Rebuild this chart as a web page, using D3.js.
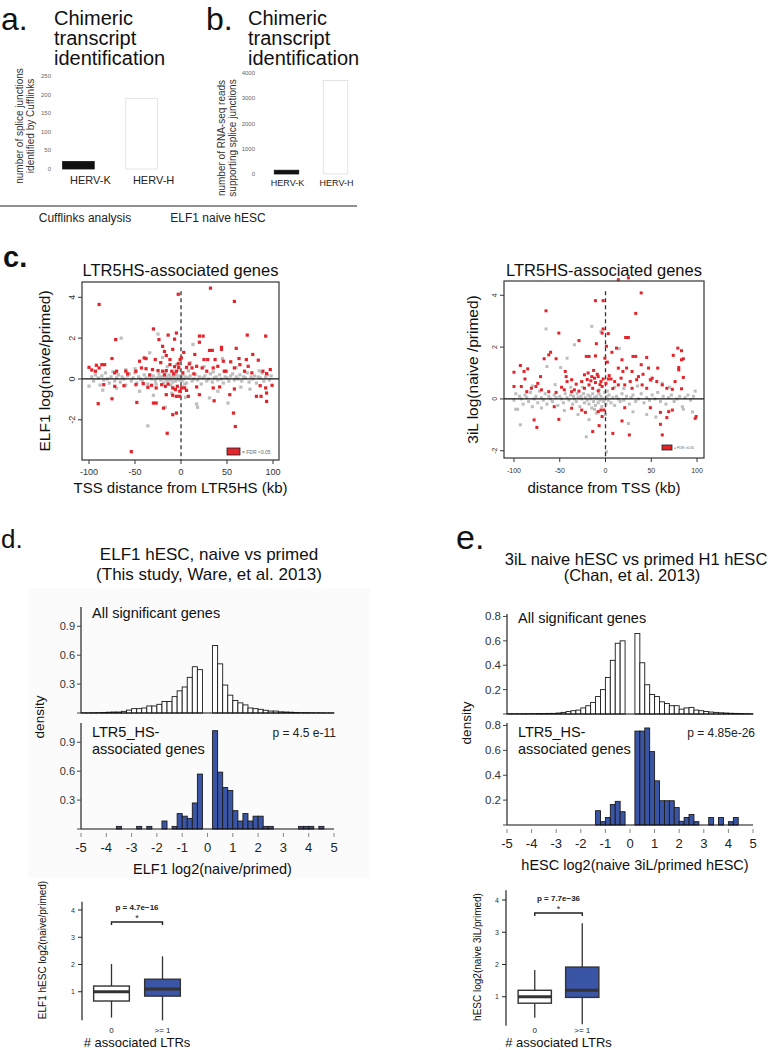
<!DOCTYPE html>
<html><head><meta charset="utf-8">
<script src="https://cdn.jsdelivr.net/npm/d3@7"></script>
<style>
body{margin:0;background:#fff}
svg{display:block}
text{font-family:"Liberation Sans",Arial,Helvetica,sans-serif}
</style>
</head><body>
<svg id="fig" width="775" height="1050"></svg>
<script>
// ---------------- DATA ----------------
const barCategories = ["HERV-K", "HERV-H"];
const aValues = [20, 190];
const aTicks = [0, 50, 100, 150, 200, 250];
const bValues = [150, 3700];
const bTicks = [0, 1000, 2000, 3000, 4000];

const scatterXTicks = [-100, -50, 0, 50, 100];
const cLeftYTicks = [-2, 0, 2, 4];
const cRightYTicks = [-2, 0, 2, 4];

// left scatter: [TSS distance kb, ELF1 log(naive/primed)]
const cLeftRed = [
 [-89,3.65],[-3,4.15],[32,4.45],[58,3.8],[-30,2.45],[-71,1.93],[72,2.15],[92,2.1],[-14,2.15],[-5,2.25],
 [-7,1.95],[-24,1.93],[20,2.1],[24,2.1],[20,1.8],[-20,1.6],[-18,1.35],[-9,1.45],[60,1.5],[31,1.4],
 [34,1.4],[44,1.45],[44,1.55],[78,1.2],[3,1.3],[15,1.2],[-75,1.0],[-86,0.7],[-83,0.7],[-40,1.03],
 [-38,1.0],[-45,0.87],[-28,0.95],[-16,1.15],[-12,0.95],[-1,0.95],[0.4,1.03],[25,0.95],[29,0.95],[37,0.95],
 [46,0.87],[54,0.84],[63,1.0],[71,0.95],[84,0.92],[-100,0.57],[-97,0.44],[-92,0.67],[-89,0.54],[-93,0.38],
 [-70,0.38],[-72,0.3],[-60,0.38],[-49,0.38],[-43,0.54],[-38,0.5],[-31,0.46],[-25,0.41],[-20,0.38],[-16,0.41],
 [-10,0.38],[-5,0.38],[-2.5,0.57],[6,0.57],[9,0.74],[12,0.54],[17,0.62],[23,0.54],[28,0.38],[35,0.54],
 [40,0.62],[47,0.38],[49,0.38],[58,0.54],[64,0.7],[69,0.38],[73,0.62],[89,0.38],[93,0.26],[97,0.46],
 [-84,-0.28],[-72,-0.36],[-62,-0.33],[-49,-0.28],[-41,-0.23],[-36,-0.41],[-32,-0.31],[-27,-0.44],[-21,-0.28],[-17,-0.36],
 [-14,-0.25],[-9,-0.44],[-6,-0.52],[-4,-0.36],[-1.4,-0.6],[0.4,-0.44],[4,-0.44],[6,-0.56],[17,-0.39],[35,-0.44],
 [42,-0.39],[58,-0.49],[86,-0.33],[92,-0.44],[99,-0.31],[-75,-0.97],[-90,-1.21],[-48,-1.15],[-30,-1.18],[-27,-1.18],
 [-16,-0.77],[-9,-0.8],[-1.4,-0.85],[-5,-0.85],[8,-0.85],[20,-0.77],[36,-1.07],[53,-0.77],[82,-0.85],[87,-0.85],
 [93,-1.1],[93,-0.69],[-19,-1.43],[-9,-1.75],[-5,-1.67],[57,-1.67],[59,-2.33],[-15,-2.66],[-54,-3.56],[-22,0.8],
 [-12,0.7],[-7,0.6],[-3,0.75],[-18,0.2],[-8,0.25],[2,0.3],[14,0.25],[-34,0.2],[-58,0.25],[77,0.3]
];
const cLeftGrey = [
 [-100,-0.35],[-97,0.1],[-95,-0.1],[-93,0.2],[-90,0.05],[-88,-0.3],[-86,0.15],[-84,-0.05],[-82,0.3],[-80,0.0],
 [-78,-0.2],[-76,0.1],[-74,0.35],[-72,-0.1],[-70,0.05],[-68,0.2],[-66,-0.15],[-64,0.1],[-62,0.0],[-60,-0.3],
 [-58,0.15],[-56,0.25],[-54,-0.1],[-52,0.05],[-50,0.3],[-48,-0.2],[-46,0.1],[-44,0.0],[-42,-0.1],[-40,0.2],
 [-38,0.05],[-36,-0.25],[-34,0.1],[-32,0.0],[-30,0.15],[-28,-0.1],[-26,0.05],[-24,0.25],[-22,-0.05],[-20,0.1],
 [-19,-0.2],[-18,0.0],[-17,0.3],[-16,0.1],[-15,-0.1],[-14,0.05],[-13,0.2],[-12,-0.05],[-11,0.1],[-10,0.0],
 [-9,-0.15],[-8,0.15],[-7,0.05],[-6,-0.1],[-5,0.2],[-4,0.0],[-3,0.1],[-2,-0.05],[-1,0.15],[0.5,0.05],
 [1,-0.1],[2,0.2],[3,0.0],[5,0.1],[6,-0.2],[8,0.05],[10,0.15],[12,-0.1],[14,0.0],[16,0.2],
 [18,-0.05],[20,0.1],[22,-0.25],[24,0.05],[26,0.15],[28,-0.1],[30,0.0],[32,0.25],[34,-0.15],[36,0.05],
 [38,0.1],[40,-0.05],[42,0.2],[44,0.0],[46,-0.2],[48,0.1],[50,0.05],[52,-0.1],[54,0.15],[56,0.25],
 [58,-0.05],[60,0.1],[62,0.0],[64,0.2],[66,-0.1],[68,0.1],[70,0.05],[72,0.3],[74,-0.15],[76,0.1],
 [78,0.0],[80,0.15],[82,-0.2],[84,0.1],[86,0.05],[88,0.3],[90,-0.1],[92,0.1],[94,0.2],[96,-0.05],
 [98,0.15],[-65,2.0],[-25,2.2],[-36,-2.3],[-17,-1.39],[18,-1.39],[17,-1.23],[51,-1.18],[31,-0.93],[-34,1.28],
 [13,1.69],[-20,1.05],[-45,-0.6],[60,0.55],[-10,-0.7],[25,0.6],[-60,0.45],[40,-0.6],[-5,0.7],[75,-0.5],
 [-85,-0.55],[10,0.8],[-30,-0.8],[85,0.4],[-50,0.5],[45,1.0],[-15,0.6],[5,-0.9],[65,-0.4],[-70,-0.45],
 [35,0.35],[-3,0.45],[2,-0.4],[-8,-0.45],[8,0.4],[-23,0.1],[-11,-0.3],[-6,0.3],[4,-0.25],[-27,-0.25]
];

// right scatter: [distance from TSS kb, 3iL log(naive/primed)]
const cRightRed = [
 [14,4.6],[25,4.67],[39,4.09],[-11,3.79],[-2.6,3.79],[33,3.3],[-65,3.4],[-51,2.54],[-2.6,2.7],[-3.7,2.54],
 [3,2.52],[22,2.37],[25,2.37],[-29,2.25],[-10,2.13],[1,2.03],[7,1.8],[12,1.96],[18,1.51],[-21,1.64],
 [-18,1.64],[-11,1.66],[-0.7,1.57],[2,1.42],[-60,1.8],[-62,1.7],[-67,1.55],[-54,1.55],[-93,1.29],[-89,1.06],
 [-100,1.03],[-85,1.16],[-88,0.77],[79,1.96],[83,1.86],[74,1.68],[83,1.51],[85,1.55],[80,1.21],[80,1.12],
 [85,0.83],[83,0.39],[76,0.67],[30,1.64],[33,1.64],[45,1.6],[39,1.32],[47,1.19],[57,1.19],[29,1.06],
 [23,1.19],[14,1.19],[19,1.06],[-23,0.93],[-19,1.0],[-15,0.86],[-12,0.8],[-8,0.86],[-5,0.67],[-2.6,0.77],
 [3,0.77],[6,0.77],[-11,0.63],[-18,0.54],[-23,0.41],[-14,0.41],[-8,0.31],[-3.7,0.48],[-26,0.67],[-32,0.57],
 [-37,0.74],[-42,0.67],[-44,1.06],[-43,0.86],[-37,0.28],[-34,0.35],[10,0.67],[14,0.54],[21,0.54],[27,0.67],
 [29,0.41],[34,0.74],[40,0.54],[45,0.41],[51,0.8],[56,0.67],[62,0.54],[67,0.41],[73,0.37],[49,0.74],
 [36,0.86],[-100,0.48],[-92,0.48],[-86,0.28],[-81,0.41],[-76,0.48],[-70,0.35],[-62,0.28],[-54,0.25],[-45,0.35],
 [-74,0.6],[-71,0.86],[-56,-0.3],[-37,-0.36],[-26,-0.43],[-22,-0.52],[-8,-0.49],[-5,-0.43],[-1.8,-0.43],[-3.7,-0.68],
 [21,-0.34],[49,-0.34],[60,-0.52],[69,-0.49],[73,-0.43],[99,-0.68],[98,-0.75],[-51,-0.79],[-78,-0.81],[-75,-1.1],
 [18,-0.85],[-7,-1.03],[60,-0.98],[67,-0.72],[-14,-1.26],[8,-1.33],[26,-1.39],[62,-1.39],[-16,0.7],[-9,0.95],
 [-6,0.55],[0.5,0.6],[4,0.9],[-20,0.75],[-13,1.1],[8,0.4],[-29,0.3],[17,0.8],[41,0.95],[-48,0.45]
];
const cRightGrey = [
 [-100,-0.05],[-98,0.2],[-96,-0.4],[-94,0.1],[-92,0.0],[-90,-0.2],[-88,0.15],[-86,0.05],[-84,-0.1],[-82,0.25],
 [-80,-0.3],[-78,0.0],[-76,0.1],[-74,-0.15],[-72,0.3],[-70,0.05],[-68,-0.05],[-66,0.2],[-64,-0.2],[-62,0.1],
 [-60,0.0],[-58,-0.1],[-56,0.15],[-54,0.05],[-52,-0.25],[-50,0.1],[-48,0.0],[-46,-0.15],[-44,0.2],[-42,0.05],
 [-40,-0.05],[-38,0.15],[-36,-0.2],[-35,0.1],[-34,0.0],[-32,-0.1],[-31,0.2],[-30,0.05],[-28,-0.3],[-27,0.1],
 [-26,0.0],[-24,0.2],[-23,-0.15],[-22,0.05],[-20,-0.05],[-19,0.15],[-18,-0.2],[-17,0.1],[-16,0.0],[-15,-0.35],
 [-14,0.2],[-13,-0.1],[-12,0.05],[-11,-0.25],[-10,0.1],[-9,0.0],[-8,-0.15],[-7,0.2],[-6,-0.05],[-5,0.1],
 [-4,-0.3],[-3,0.0],[-2,-0.1],[-1,0.25],[0.5,-0.2],[1.5,0.1],[3,-0.05],[4,0.15],[6,-0.15],[8,0.05],
 [10,-0.25],[12,0.1],[14,0.0],[16,-0.1],[18,0.2],[20,-0.05],[23,0.1],[26,-0.2],[28,0.05],[30,0.15],
 [33,-0.1],[36,0.0],[39,0.2],[42,-0.15],[45,0.05],[48,-0.05],[51,0.15],[54,0.0],[57,0.25],[60,-0.1],
 [63,0.1],[66,-0.2],[69,0.05],[72,0.15],[75,-0.1],[78,0.0],[81,0.1],[84,-0.3],[87,0.05],[90,0.15],
 [93,-0.05],[96,0.1],[98,0.3],[-93,-1.0],[-21,-1.46],[1,-2.04],[-65,2.7],[-15,2.8],[-34,2.09],[-42,1.57],
 [-49,1.21],[-64,1.25],[15,1.94],[-5,2.6],[20,0.4],[-55,0.55],[45,-0.6],[-30,-0.6],[70,0.45],[-80,0.5],
 [30,-0.5],[-10,-0.55],[10,0.45],[55,-0.7],[-45,-0.45],[85,-0.4],[-25,0.45],[35,0.5],[-70,-0.35],[0,-0.6],
 [-38,0.45],[62,0.6],[-98,-0.4],[95,-0.5],[-18,-0.8],[25,-0.95],[50,0.7],[-12,-0.4],[-7,0.35],[2,0.3]
];

// histograms: bin left edges (width 0.2)
const histBins = [-5,-4.8,-4.6,-4.4,-4.2,-4,-3.8,-3.6,-3.4,-3.2,-3,-2.8,-2.6,-2.4,-2.2,-2,-1.8,-1.6,-1.4,-1.2,
 -1,-0.8,-0.6,-0.4,-0.2,0,0.2,0.4,0.6,0.8,1,1.2,1.4,1.6,1.8,2,2.2,2.4,2.6,2.8,
 3,3.2,3.4,3.6,3.8,4,4.2,4.4,4.6,4.8];
const histXTicks = [-5,-4,-3,-2,-1,0,1,2,3,4,5];
const dAllDensity = [0.002,0.002,0.003,0.004,0.006,0.008,0.01,0.01,0.017,0.03,
 0.045,0.045,0.052,0.073,0.073,0.09,0.12,0.12,0.17,0.23,
 0.27,0.37,0.48,0.45,0,0,0.70,0.51,0.29,0.185,
 0.13,0.105,0.084,0.052,0.045,0.038,0.028,0.02,0.02,0.012,
 0.01,0.008,0.006,0.004,0.004,0.003,0.002,0.002,0.001,0.001];
const dLtrDensity = [0,0,0,0,0,0,0,0.027,0,0,
 0,0.027,0,0.027,0,0,0.083,0,0.027,0.16,
 0.133,0.11,0.27,0.57,0,0,1.02,0.59,0.43,0.40,
 0.19,0.083,0.16,0.083,0.133,0.133,0.027,0.027,0,0,
 0,0,0,0.027,0.027,0.027,0,0.027,0,0];
const dYTicks = [0.3, 0.6, 0.9];
const eAllDensity = [0.002,0.002,0.002,0.003,0.003,0.003,0.004,0.004,0.005,0.005,
 0.008,0.013,0.02,0.027,0.032,0.05,0.068,0.095,0.143,0.2,
 0.3,0.44,0.58,0.6,0,0,0.66,0.42,0.24,0.16,
 0.143,0.1,0.086,0.068,0.068,0.04,0.05,0.054,0.032,0.027,
 0.02,0.016,0.013,0.01,0.008,0.006,0.005,0.004,0.003,0.002];
const eLtrDensity = [0,0,0,0,0,0,0,0,0,0,
 0,0,0,0,0,0,0,0,0.115,0.027,
 0.06,0.165,0.19,0.107,0,0,0.755,0.755,0.78,0.59,
 0.355,0.195,0.195,0.195,0.14,0.03,0.06,0.085,0.027,0,
 0,0.06,0,0.06,0,0.027,0.06,0,0,0];
const eYTicks = [0.2, 0.4, 0.6, 0.8];

// boxplots: [lower whisker, Q1, median, Q3, upper whisker]
const boxGroups = ["0", ">= 1"];
const dBoxStats = [[0.05, 0.66, 1.0, 1.21, 2.02], [-0.05, 0.84, 1.1, 1.46, 2.3]];
const eBoxStats = [[0.35, 0.8, 1.0, 1.2, 1.83], [0.15, 0.98, 1.2, 1.92, 3.28]];
const boxYTicks = [1, 2, 3, 4];

// ---------------- DRAWING ----------------
const RED = "#e3242b", GREY = "#bdbdbd", BLUE = "#3a55a6";
const svg = d3.select("#fig");
svg.append("rect").attr("width", 775).attr("height", 1050).attr("fill", "#fff");

function T(g, x, y, s, size, o = {}) {
  const t = g.append("text").attr("x", x).attr("y", y).text(s)
    .attr("font-size", size).attr("fill", o.fill || "#111")
    .attr("text-anchor", o.anchor || "start");
  if (o.family) t.attr("font-family", o.family);
  if (o.weight) t.attr("font-weight", o.weight);
  if (o.rotate) t.attr("transform", `rotate(${o.rotate},${x},${y})`);
  return t;
}

// ===== panels a & b =====
function barPanel(o) {
  const g = svg.append("g");
  T(g, o.letterX, 30, o.letter, 32);
  ["Chimeric", "transcript", "identification"].forEach((s, i) =>
    T(g, o.titleX, 25 + i * 20, s, 20, {family: "'DejaVu Sans',sans-serif"}));
  const y = d3.scaleLinear().domain([0, o.ticks[o.ticks.length - 1]]).range([o.y0, o.y1]);
  const x = d3.scaleBand().domain(barCategories).range(o.xr).paddingInner(0.5).paddingOuter(o.po);
  o.ticks.forEach(t => T(g, o.tickX, y(t) + 2, t, 6, {anchor: "end", fill: "#666"}));
  g.selectAll(null).data(o.values).join("rect")
    .attr("x", (d, i) => x(barCategories[i])).attr("width", x.bandwidth())
    .attr("y", d => y(d)).attr("height", d => o.y0 - y(d))
    .attr("fill", (d, i) => i === 0 ? "#111" : "#fff")
    .attr("stroke", (d, i) => i === 0 ? "#111" : "#ddd").attr("stroke-width", 0.8);
  barCategories.forEach((c, i) =>
    T(g, x(c) + x.bandwidth() / 2 + o.labOff, o.labY, c, o.labSize, {anchor: "middle", fill: "#222"}));
  o.ylab.forEach((s, i) =>
    T(g, o.ylabX + i * 11, o.ylabY, s, 10, {anchor: "middle", rotate: -90, fill: "#333"}));
}
barPanel({letter: "a.", letterX: 1, titleX: 54, ticks: aTicks, values: aValues, y0: 169, y1: 76,
  xr: [50, 170], po: 0.2, tickX: 51, labOff: 12, labY: 184, labSize: 11,
  ylab: ["number of splice junctions", "identified by Cufflinks"], ylabX: 23, ylabY: 126});
barPanel({letter: "b.", letterX: 206, titleX: 248, ticks: bTicks, values: bValues, y0: 174, y1: 73,
  xr: [262, 360], po: 0.25, tickX: 255, labOff: 1, labY: 186, labSize: 9,
  ylab: ["number of RNA-seq reads", "supporting splice junctions"], ylabX: 225, ylabY: 138});
svg.append("line").attr("x1", 0).attr("x2", 357).attr("y1", 206).attr("y2", 206)
  .attr("stroke", "#222").attr("stroke-width", 1.2);
T(svg, 85, 222, "Cufflinks analysis", 12, {anchor: "middle", fill: "#222"});
T(svg, 218, 222, "ELF1 naive hESC", 12, {anchor: "middle", fill: "#222"});

// ===== panel c scatter plots =====
T(svg, 3, 267, "c.", 29, {weight: "bold"});
function scatter(o) {
  const g = svg.append("g");
  const x = d3.scaleLinear().domain(o.xd).range([o.left, o.right]);
  const y = d3.scaleLinear().domain(o.yd).range([o.bottom, o.top]);
  const s = o.ps;
  g.selectAll(null).data(o.grey).join("rect")
    .attr("x", d => x(d[0]) - s / 2).attr("y", d => y(d[1]) - s / 2)
    .attr("width", s).attr("height", s).attr("fill", GREY);
  g.append("line").attr("x1", o.left).attr("x2", o.right).attr("y1", y(0)).attr("y2", y(0))
    .attr("stroke", "#111").attr("stroke-width", 1.2);
  g.append("line").attr("x1", x(0)).attr("x2", x(0)).attr("y1", y(o.dashTop)).attr("y2", o.bottom)
    .attr("stroke", "#333").attr("stroke-width", 1.3).attr("stroke-dasharray", "4,3");
  g.selectAll(null).data(o.red).join("rect")
    .attr("x", d => x(d[0]) - s / 2).attr("y", d => y(d[1]) - s / 2)
    .attr("width", s).attr("height", s).attr("fill", RED);
  g.append("rect").attr("x", o.left).attr("y", o.top).attr("width", o.right - o.left)
    .attr("height", o.bottom - o.top).attr("fill", "none").attr("stroke", "#333").attr("stroke-width", 1.2);
  scatterXTicks.forEach(t => {
    g.append("line").attr("x1", x(t)).attr("x2", x(t)).attr("y1", o.bottom).attr("y2", o.bottom + 4)
      .attr("stroke", "#333");
    T(g, x(t), o.bottom + 15, t, o.tickSize, {anchor: "middle", fill: "#333"});
  });
  o.yTicks.forEach(t => {
    g.append("line").attr("x1", o.left - 4).attr("x2", o.left).attr("y1", y(t)).attr("y2", y(t))
      .attr("stroke", "#333");
    T(g, o.left - 7, y(t), t, o.tickSize, {anchor: "middle", fill: "#333", rotate: -90});
  });
  T(g, (o.left + o.right) / 2, 276, "LTR5HS-associated genes", 16.5, {anchor: "middle"});
  T(g, (o.left + o.right) / 2, 493, o.xlab, 15, {anchor: "middle"});
  T(g, o.ylabX, (o.top + o.bottom) / 2, o.ylab, 15.5, {anchor: "middle", rotate: -90});
  g.append("rect").attr("x", o.legX).attr("y", o.legY).attr("width", o.legW).attr("height", o.legH)
    .attr("fill", RED).attr("stroke", "#222").attr("stroke-width", 0.8);
  T(g, o.legX + o.legW + 2, o.legY + o.legH - 1, "= FDR <0.05", o.legFont, {fill: "#666"});
}
scatter({xd: [-107.6, 106.5], yd: [-3.97, 4.75], left: 82, right: 279, top: 282, bottom: 460,
  red: cLeftRed, grey: cLeftGrey, yTicks: cLeftYTicks, ps: 3.2, dashTop: 4.3, tickSize: 9,
  xlab: "TSS distance from LTR5HS (kb)", ylab: "ELF1 log(naive/primed)", ylabX: 50,
  legX: 227, legY: 448, legW: 13, legH: 7, legFont: 5});
scatter({xd: [-110.9, 107.6], yd: [-2.28, 4.55], left: 504, right: 704, top: 281, bottom: 458,
  red: cRightRed, grey: cRightGrey, yTicks: cRightYTicks, ps: 3, dashTop: 4.15, tickSize: 7,
  xlab: "distance from TSS (kb)", ylab: "3iL log(naive /primed)", ylabX: 478,
  legX: 662, legY: 445, legW: 10, legH: 5, legFont: 3.5});

// ===== panels d & e histograms =====
svg.append("rect").attr("x", 28).attr("y", 588).attr("width", 342).attr("height", 290).attr("fill", "#fbfbfb");
T(svg, 1, 548, "d.", 26);
T(svg, 456, 549, "e.", 34);
T(svg, 209, 560, "ELF1 hESC, naive vs primed", 17, {anchor: "middle"});
T(svg, 209, 580, "(This study, Ware, et al. 2013)", 17, {anchor: "middle"});
T(svg, 636, 565, "3iL naive hESC vs primed H1 hESC", 16.5, {anchor: "middle"});
T(svg, 632, 581, "(Chan, et al. 2013)", 16.5, {anchor: "middle"});

function hist(o) {
  const g = svg.append("g");
  const x = d3.scaleLinear().domain([-5, 5]).range([o.x0, o.x1]);
  const y = d3.scaleLinear().domain([0, o.ymax]).range([o.base, o.topPx]);
  const data = histBins.map((b, i) => ({b, v: o.values[i]})).filter(d => d.v > 0);
  g.selectAll(null).data(data).join("rect")
    .attr("x", d => x(d.b)).attr("width", x(0.2) - x(0))
    .attr("y", d => y(d.v)).attr("height", d => o.base - y(d.v))
    .attr("fill", o.fill).attr("stroke", "#1a1a1a").attr("stroke-width", 0.9);
  g.append("line").attr("x1", o.x0).attr("x2", o.x1).attr("y1", o.base).attr("y2", o.base)
    .attr("stroke", "#111").attr("stroke-width", 1.1);
  g.append("line").attr("x1", o.x0).attr("x2", o.x0).attr("y1", o.base).attr("y2", o.topPx)
    .attr("stroke", "#111").attr("stroke-width", 1.1);
  [0].concat(o.yTicks).forEach(t => {
    g.append("line").attr("x1", o.x0 - 4).attr("x2", o.x0).attr("y1", y(t)).attr("y2", y(t)).attr("stroke", "#444");
    if (t > 0) T(g, o.x0 - 6, y(t) + 4, t, o.tickFont, {anchor: "end", fill: "#333"});
  });
  o.labels.forEach((s, i) => T(g, o.x0 + 11, o.labY + i * 16.5, s, 14.5, {fill: "#111"}));
  if (o.p) T(g, o.x1 + 2, o.labY, o.p, 12, {anchor: "end", fill: "#222"});
  if (o.xaxis) {
    histXTicks.forEach(t => {
      g.append("line").attr("x1", x(t)).attr("x2", x(t)).attr("y1", o.base + 4).attr("y2", o.base + 8)
        .attr("stroke", "#888");
      T(g, x(t), o.base + 23, t, 13, {anchor: "middle", fill: "#222"});
    });
    T(g, (o.x0 + o.x1) / 2 + 5, o.base + 45, o.xlab, 14.5, {anchor: "middle"});
  }
}
hist({x0: 81, x1: 334, base: 713, ymax: 1.1, topPx: 607, values: dAllDensity, fill: "#fff",
  yTicks: dYTicks, tickFont: 11, labels: ["All significant genes"], labY: 618});
hist({x0: 81, x1: 334, base: 829, ymax: 1.1, topPx: 723, values: dLtrDensity, fill: BLUE,
  yTicks: dYTicks, tickFont: 11, labels: ["LTR5_HS-", "associated genes"], labY: 737, p: "p = 4.5 e-11",
  xaxis: true, xlab: "ELF1 log2(naive/primed)"});
T(svg, 44, 717, "density", 13.5, {anchor: "middle", rotate: -90});

hist({x0: 507, x1: 753, base: 714, ymax: 0.82, topPx: 614, values: eAllDensity, fill: "#fff",
  yTicks: eYTicks, tickFont: 11.5, labels: ["All significant genes"], labY: 623});
hist({x0: 507, x1: 753, base: 825, ymax: 0.82, topPx: 723, values: eLtrDensity, fill: BLUE,
  yTicks: eYTicks, tickFont: 11.5, labels: ["LTR5_HS-", "associated genes"], labY: 737, p: "p = 4.85e-26",
  xaxis: true, xlab: "hESC log2(naive 3iL/primed hESC)"});
T(svg, 471, 723, "density", 13.5, {anchor: "middle", rotate: -90});

// ===== boxplots =====
function boxplot(o) {
  const g = svg.append("g");
  const y = d3.scaleLinear().domain([0, 4]).range([o.y0, o.y4]);
  const x = d3.scaleBand().domain(boxGroups).range(o.xr).paddingInner(0.3).paddingOuter(0.15);
  const bw = x.bandwidth();
  g.append("line").attr("x1", o.axisX).attr("x2", o.axisX).attr("y1", y(4.3)).attr("y2", y(o.axisBottom))
    .attr("stroke", "#222").attr("stroke-width", 1.2);
  boxYTicks.forEach(t => {
    g.append("line").attr("x1", o.axisX - 4).attr("x2", o.axisX).attr("y1", y(t)).attr("y2", y(t)).attr("stroke", "#222");
    T(g, o.axisX - 7, y(t) + 2.5, t, 7, {anchor: "end", fill: "#333"});
  });
  o.stats.forEach((s, i) => {
    const cx = x(boxGroups[i]) + bw / 2;
    g.append("line").attr("x1", cx).attr("x2", cx).attr("y1", y(s[0])).attr("y2", y(s[4]))
      .attr("stroke", "#333").attr("stroke-width", 1.3);
    g.append("rect").attr("x", x(boxGroups[i])).attr("width", bw).attr("y", y(s[3]))
      .attr("height", y(s[1]) - y(s[3])).attr("fill", i === 0 ? "#fff" : BLUE)
      .attr("stroke", "#333").attr("stroke-width", 1.4);
    g.append("line").attr("x1", x(boxGroups[i])).attr("x2", x(boxGroups[i]) + bw)
      .attr("y1", y(s[2])).attr("y2", y(s[2])).attr("stroke", "#333").attr("stroke-width", 3);
    T(g, cx, 1033, boxGroups[i], 8, {anchor: "middle", fill: "#222"});
  });
  const c0 = x(boxGroups[0]) + bw / 2, c1 = x(boxGroups[1]) + bw / 2;
  const by = o.bracketY;
  g.append("path").attr("d", `M${c0},${by + 3}V${by}H${c1}V${by + 3}`)
    .attr("fill", "none").attr("stroke", "#222").attr("stroke-width", 1.4);
  T(g, (c0 + c1) / 2, by - 1, "*", 9, {anchor: "middle", fill: "#222"});
  T(g, (c0 + c1) / 2, by - 12, o.p, 8, {anchor: "middle", fill: "#222", weight: "bold"});
  T(g, o.ylabX, o.ylabY, o.ylab, 10, {anchor: "middle", rotate: -90});
  T(g, (c0 + c1) / 2, 1047, "# associated LTRs", 13, {anchor: "middle"});
}
boxplot({stats: dBoxStats, y0: 1019, y4: 910, xr: [86, 188], axisX: 82, bracketY: 922, axisBottom: -0.05,
  p: "p =  4.7e\u221216", ylab: "ELF1 hESC log2(naive/primed)", ylabX: 46, ylabY: 950});
boxplot({stats: eBoxStats, y0: 1029, y4: 900, xr: [511, 606], axisX: 506, bracketY: 913, axisBottom: 0.1,
  p: "p =  7.7e\u221236", ylab: "hESC log2(naive 3iL/primed)", ylabX: 481, ylabY: 957});
</script>
</body></html>
